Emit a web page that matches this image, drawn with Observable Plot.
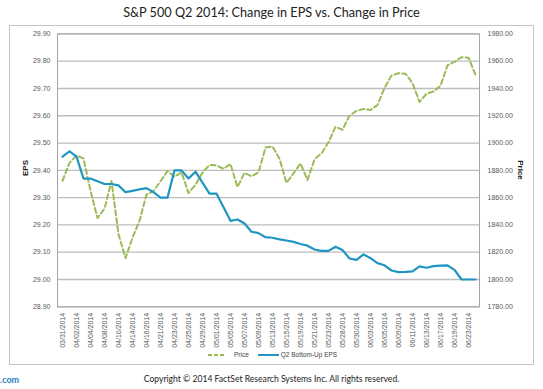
<!DOCTYPE html>
<html>
<head>
<meta charset="utf-8">
<script src="https://cdn.jsdelivr.net/npm/d3@7"></script>
<script src="https://cdn.jsdelivr.net/npm/@observablehq/plot@0.6"></script>
<style>
  html, body { margin: 0; padding: 0; background: #fff; }
  #wrap { position: relative; width: 543px; height: 389px; overflow: hidden; font-family: "Liberation Sans", Arial, sans-serif; }
  #chart { position: absolute; left: 0; top: 0; }
  .abs { position: absolute; white-space: nowrap; }
  #frame { position: absolute; left: 9px; top: 25px; width: 525px; height: 340px; border: 1px solid #c4c4c4; box-sizing: border-box; }
  #title { left: 0; width: 543px; top: 4px; text-align: center; font-family: Lato, "Open Sans", sans-serif; font-size: 12.7px; color: #222; }
  .vlab { font-weight: bold; font-size: 8px; color: #222; }
  #legend { top: 351px; left: 208px; font-size: 6.5px; color: #444; display: flex; align-items: center; }
  #copy { top: 374px; left: 0; width: 543px; text-align: center; font-family: Lato, "Open Sans", sans-serif; font-size: 8.6px; color: #222; }
  #site { top: 374px; left: 0; font-family: Lato, sans-serif; font-size: 9px; font-weight: bold; color: #1f7fbf; }
</style>
</head>
<body>
<div id="wrap">
  <div id="frame"></div>
  <div id="chart"></div>
  <div id="title" class="abs">S&amp;P 500 Q2 2014: Change in EPS vs. Change in Price</div>
  <div class="abs vlab" style="left:25px; top:168px; transform: translate(-50%,-50%) rotate(-90deg);">EPS</div>
  <div class="abs vlab" style="left:520px; top:170px; transform: translate(-50%,-50%) rotate(90deg);">Price</div>
  <div id="legend" class="abs">
    <svg width="17" height="6"><line x1="0" y1="3" x2="17" y2="3" stroke="#9bbb59" stroke-width="2" stroke-dasharray="4,2"/></svg>
    <span style="margin-left:9px;">Price</span>
    <svg width="21" height="6" style="margin-left:9px;"><line x1="0" y1="3" x2="21" y2="3" stroke="#1f96c2" stroke-width="2"/></svg>
    <span style="margin-left:2px;">Q2 Bottom-Up EPS</span>
  </div>
  <div id="copy" class="abs">Copyright © 2014 FactSet Research Systems Inc. All rights reserved.</div>
  <div id="site" class="abs">.com</div>
</div>
<script>
const dates = ["03/31/2014","04/01/2014","04/02/2014","04/03/2014","04/04/2014","04/07/2014","04/08/2014","04/09/2014","04/10/2014","04/11/2014",
  "04/14/2014","04/15/2014","04/16/2014","04/17/2014","04/21/2014","04/22/2014","04/23/2014","04/24/2014","04/25/2014","04/28/2014",
  "04/29/2014","04/30/2014","05/01/2014","05/02/2014","05/05/2014","05/06/2014","05/07/2014","05/08/2014","05/09/2014","05/12/2014",
  "05/13/2014","05/14/2014","05/15/2014","05/16/2014","05/19/2014","05/20/2014","05/21/2014","05/22/2014","05/23/2014","05/27/2014",
  "05/28/2014","05/29/2014","05/30/2014","06/02/2014","06/03/2014","06/04/2014","06/05/2014","06/06/2014","06/09/2014","06/10/2014",
  "06/11/2014","06/12/2014","06/13/2014","06/16/2014","06/17/2014","06/18/2014","06/19/2014","06/20/2014","06/23/2014","06/24/2014"];

const price = [1872.34,1885.52,1890.90,1888.77,1865.09,1845.04,1851.96,1872.18,1833.08,1815.69,
  1830.61,1842.98,1862.31,1864.85,1871.89,1879.55,1875.39,1878.61,1863.40,1869.43,
  1878.33,1883.95,1883.68,1881.14,1884.66,1867.72,1878.21,1875.63,1878.48,1896.65,
  1897.45,1888.53,1870.85,1877.86,1885.08,1872.83,1888.03,1892.49,1900.53,1911.91,
  1909.78,1920.03,1923.57,1924.97,1924.24,1927.88,1940.46,1949.44,1951.27,1950.79,
  1943.89,1930.11,1936.16,1937.78,1941.99,1956.98,1959.48,1962.87,1962.61,1949.98];

const eps = [29.45,29.47,29.45,29.37,29.37,29.36,29.35,29.35,29.345,29.32,
  29.325,29.33,29.335,29.32,29.30,29.30,29.40,29.40,29.37,29.395,
  29.355,29.315,29.315,29.265,29.215,29.22,29.205,29.175,29.17,29.155,
  29.153,29.147,29.143,29.138,29.13,29.124,29.11,29.105,29.105,29.12,
  29.108,29.077,29.072,29.092,29.078,29.06,29.052,29.033,29.027,29.028,
  29.03,29.048,29.043,29.049,29.051,29.052,29.035,29.0,29.0,29.0];

const epsTicks = [28.9,29.0,29.1,29.2,29.3,29.4,29.5,29.6,29.7,29.8,29.9];
const priceTicks = [1780,1800,1820,1840,1860,1880,1900,1920,1940,1960,1980];
const xTickLabels = dates.filter((d, i) => i % 2 === 0);

// map price onto the EPS (left) axis using the two axes' tick ranges
const p0 = priceTicks[0], p1 = priceTicks[priceTicks.length - 1];
const e0 = epsTicks[0], e1 = epsTicks[epsTicks.length - 1];
const priceToEps = p => e0 + (p - p0) * (e1 - e0) / (p1 - p0);
const epsToPrice = e => p0 + (e - e0) * (p1 - p0) / (e1 - e0);

const data = dates.map((d, i) => ({date: d, price: price[i], eps: eps[i]}));

const chart = Plot.plot({
  width: 543,
  height: 389,
  marginTop: 33.4,
  marginBottom: 82.7,
  marginLeft: 57,
  marginRight: 64,
  style: {fontFamily: "Liberation Sans, Arial, sans-serif", background: "transparent", color: "#595959"},
  x: {type: "point", domain: dates, padding: 0.55},
  y: {domain: [e0, e1]},
  marks: [
    Plot.gridY(epsTicks, {stroke: "#bdbdbd", strokeOpacity: 1, strokeWidth: 1.3}),
    Plot.frame({stroke: "#a6a6a6", strokeWidth: 1}),
    Plot.axisY(epsTicks, {anchor: "left", tickSize: 0, tickPadding: 7, fontSize: 7, tickFormat: d => d.toFixed(2), label: null}),
    Plot.axisY(priceTicks.map(priceToEps), {anchor: "right", tickSize: 0, tickPadding: 8, fontSize: 7, tickFormat: d => epsToPrice(d).toFixed(2), label: null}),
    Plot.axisX(xTickLabels, {tickSize: 0, tickPadding: 6, tickRotate: -90, fontSize: 7, label: null}),
    Plot.line(data, {x: "date", y: d => priceToEps(d.price), stroke: "#9bbb59", strokeWidth: 2, strokeDasharray: "5,3"}),
    Plot.line(data, {x: "date", y: "eps", stroke: "#1f96c2", strokeWidth: 2.2})
  ]
});
document.getElementById("chart").appendChild(chart);
</script>
</body>
</html>
